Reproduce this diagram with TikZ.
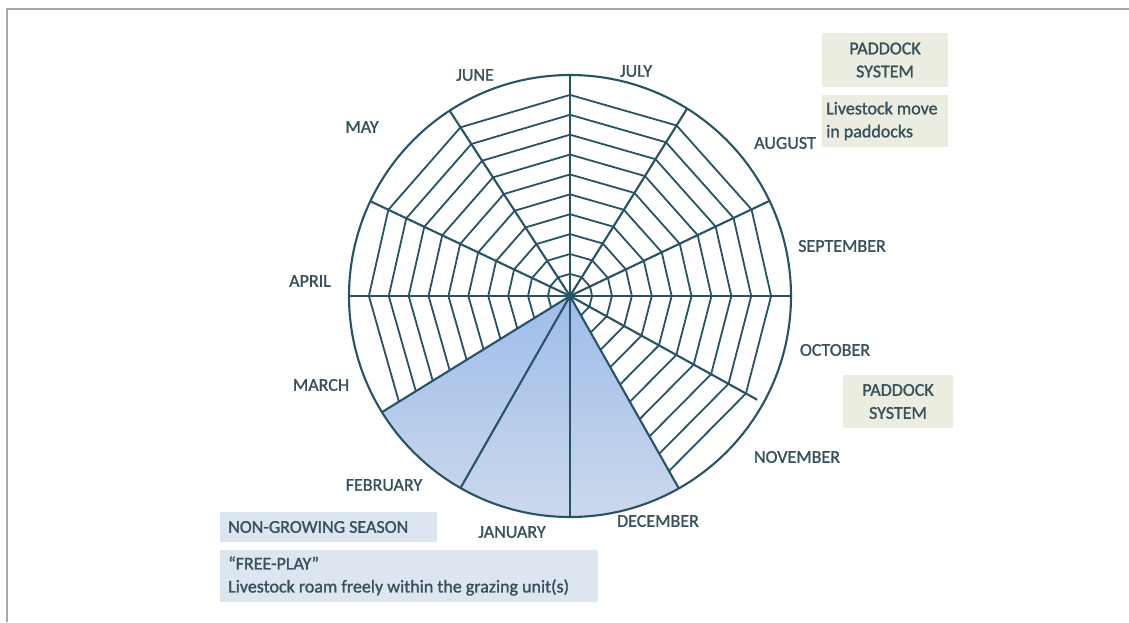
\documentclass[tikz,border=0pt]{standalone}
\usepackage{fontspec}
\setmainfont{Carlito}
\newfontfamily\lblfont{Carlito}[FakeBold=1.2]
\begin{document}
\begin{tikzpicture}[x=1pt,y=-1pt]
\definecolor{web}{RGB}{38,84,100}
\definecolor{lbl}{RGB}{55,80,92}
\definecolor{beige}{RGB}{234,237,223}
\definecolor{bluebox}{RGB}{221,229,241}
\definecolor{framec}{RGB}{168,168,168}
\definecolor{shadetop}{RGB}{158,188,234}
\definecolor{shadebot}{RGB}{204,216,236}
\tikzset{
  month/.style={text=lbl,font=\lblfont\fontsize{18}{23}\selectfont,inner sep=0pt},
  boxtext/.style={text=lbl,font=\lblfont\fontsize{18}{23}\selectfont,inner sep=0pt},
  webline/.style={draw=web,line width=1.8pt},
  spoke/.style={draw=web,line width=2.1pt},
}
\useasboundingbox (0,0) rectangle (1129,622);
\fill[white] (0,0) rectangle (1129,622);
\draw[framec,line width=1.5pt] (7,622) -- (7,9) -- (1129,9);

\coordinate (O) at (570,296);

% shaded non-growing season sectors
\shade[top color=shadetop,bottom color=shadebot]
  (O) -- plot[domain=-148.3:-60.5,samples=50] ({570+221*cos(\x)},{296-221*sin(\x)}) -- cycle;

% web hatching
\foreach \a/\b in {90/58,58/25.5,25.5/0,0/-29,-29/-60.5,-148.3/-180,-180/-205.4,-205.4/-237,-237/-270}{
  \foreach \r in {0.10,0.19,0.28,0.37,0.46,0.55,0.64,0.73,0.82,0.91}{
    \draw[webline] ({570+\r*221*cos(\a)},{296-\r*221*sin(\a)}) -- ({570+\r*221*cos(\b)},{296-\r*221*sin(\b)});
  }
}

% spokes
\foreach \a in {90,58,25.5,0,-60.5,-90,-119.7,-148.3,180,154.6,123}{
  \draw[spoke] (O) -- ({570+221*cos(\a)},{296-221*sin(\a)});
}
\draw[spoke] (O) -- ({570+214*cos(-29)},{296-214*sin(-29)});

% rim
\draw[spoke] (O) circle[radius=221pt];

% month labels
\node[month] (jul) at (636,71) {JULY};
\node[month] (jun) at (475,75) {JUNE};
\node[month] (may) at (362,127) {MAY};
\node[month] (aug) at (785,143) {AUGUST};
\node[month] (sep) at (842,246) {SEPTEMBER};
\node[month] (oct) at (835,350) {OCTOBER};
\node[month] (nov) at (797,457) {NOVEMBER};
\node[month] (dec) at (658,521) {DECEMBER};
\node[month] (jan) at (512,532) {JANUARY};
\node[month] (feb) at (384,485) {FEBRUARY};
\node[month] (mar) at (321,385) {MARCH};
\node[month] (apr) at (310,281) {APRIL};

% boxes
\fill[beige] (822,33) rectangle (948,87);
\node[boxtext,align=center] (pad1) at (885,60) {PADDOCK\\SYSTEM};
\fill[beige] (822,95) rectangle (948,147);
\node[boxtext,align=left,anchor=west] (move) at (826,121) {Livestock move\\in paddocks};
\fill[beige] (843,375) rectangle (953,428);
\node[boxtext,align=center] (pad2) at (898,401.5) {PADDOCK\\SYSTEM};
\fill[bluebox] (220,512) rectangle (437,542);
\node[boxtext,anchor=west] (ngs) at (228,527) {NON-GROWING SEASON};
\fill[bluebox] (220,550) rectangle (598,602);
\node[boxtext,align=left,anchor=west] (free) at (228,576) {“FREE-PLAY”\\Livestock roam freely within the grazing unit(s)};
\end{tikzpicture}
\end{document}
